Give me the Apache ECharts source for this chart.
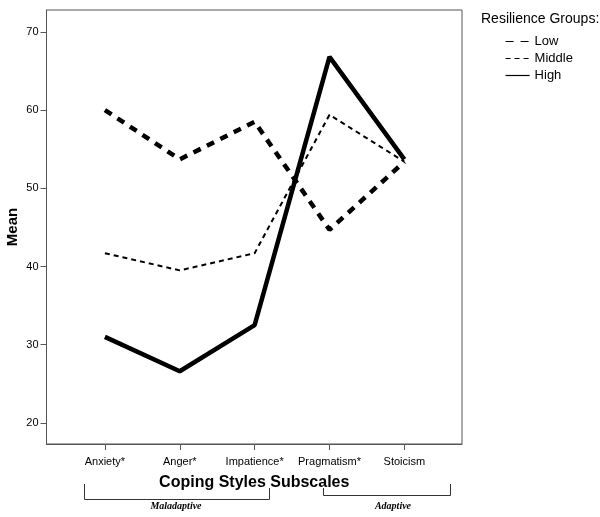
<!DOCTYPE html>
<html><head><meta charset="utf-8">
<script src="https://cdn.jsdelivr.net/npm/echarts@6/dist/echarts.min.js"></script>
<style>html,body{margin:0;padding:0;background:#fff}#c{width:600px;height:517px}</style>
</head><body><div id="c"></div>
<script>
const categories = ["Anxiety*", "Anger*", "Impatience*", "Pragmatism*", "Stoicism"];
const lowValues = [60.0, 53.7, 58.5, 44.7, 53.4];
const middleValues = [41.7, 39.5, 41.7, 59.4, 53.4];
const highValues = [31.0, 26.6, 32.5, 66.8, 53.7];
const yTicks = [20, 30, 40, 50, 60, 70];

const chart = echarts.init(document.getElementById('c'), null, {renderer: 'canvas'});
const font = '"Liberation Sans", Arial, sans-serif';
const pairs = arr => arr.map((v, i) => [i, v]);
const catIdx = categories.map((c, i) => i);

chart.setOption({
  animation: false,
  textStyle: {fontFamily: font, color: '#000'},
  grid: {left: 46.5, top: 10, right: 138, bottom: 73, show: true, borderColor: '#555', borderWidth: 1, containLabel: false, outerBoundsMode: 'none'},
  xAxis: {
    type: 'value', min: -0.78, max: 4.77,
    name: 'Coping Styles Subscales', nameLocation: 'middle', nameGap: 31, nameMoveOverlap: false,
    nameTextStyle: {fontFamily: font, fontWeight: 'bold', fontSize: 16, color: '#000'},
    splitLine: {show: false},
    axisLine: {show: true, onZero: false, lineStyle: {color: '#555'}},
    axisTick: {show: true, customValues: catIdx, length: 6, lineStyle: {color: '#555'}},
    axisLabel: {customValues: catIdx, formatter: v => categories[Math.round(v)], fontSize: 11, color: '#000', margin: 12, fontFamily: font}
  },
  yAxis: {
    type: 'value', min: 17.3, max: 72.8,
    name: 'Mean', nameLocation: 'middle', nameGap: 26, nameRotate: 90, nameMoveOverlap: false,
    nameTextStyle: {fontFamily: font, fontWeight: 'bold', fontSize: 15, color: '#000'},
    splitLine: {show: false},
    axisLine: {show: true, onZero: false, lineStyle: {color: '#555'}},
    axisTick: {show: true, customValues: yTicks, length: 6, lineStyle: {color: '#555'}},
    axisLabel: {customValues: yTicks, fontSize: 11, color: '#000', margin: 8, fontFamily: font}
  },
  legend: {
    orient: 'vertical', left: 500, top: 30, itemGap: 4, itemWidth: 24, itemHeight: 12,
    textStyle: {fontFamily: font, fontSize: 13, color: '#000'},
    lineStyle: {width: 1.2},
    itemStyle: {opacity: 0},
    data: ['Low', 'Middle', 'High']
  },
  series: [
    {name: 'Low', type: 'line', data: pairs(lowValues), symbol: 'none', color: '#000',
     lineStyle: {color: '#000', width: 4.5, type: [8, 7]}},
    {name: 'Middle', type: 'line', data: pairs(middleValues), symbol: 'none', color: '#000',
     lineStyle: {color: '#000', width: 2, type: [5, 4]}},
    {name: 'High', type: 'line', data: pairs(highValues), symbol: 'none', color: '#000',
     lineStyle: {color: '#000', width: 4.5, type: 'solid'}}
  ],
  graphic: [
    {type: 'text', left: 481, top: 12, style: {text: 'Resilience Groups:', font: '14px ' + font, fill: '#000'}},
    {type: 'polyline', shape: {points: [[84.5, 484], [84.5, 499.5], [269.5, 499.5], [269.5, 488]]}, style: {stroke: '#333', lineWidth: 1, fill: null}},
    {type: 'polyline', shape: {points: [[323.5, 488], [323.5, 495.5], [450.5, 495.5], [450.5, 484]]}, style: {stroke: '#333', lineWidth: 1, fill: null}},
    {type: 'text', x: 176, y: 506, style: {text: 'Maladaptive', font: 'italic bold 10px "Liberation Serif", "Times New Roman", serif', fill: '#000', align: 'center', verticalAlign: 'middle'}},
    {type: 'text', x: 393, y: 506, style: {text: 'Adaptive', font: 'italic bold 10px "Liberation Serif", "Times New Roman", serif', fill: '#000', align: 'center', verticalAlign: 'middle'}}
  ]
});
</script></body></html>
